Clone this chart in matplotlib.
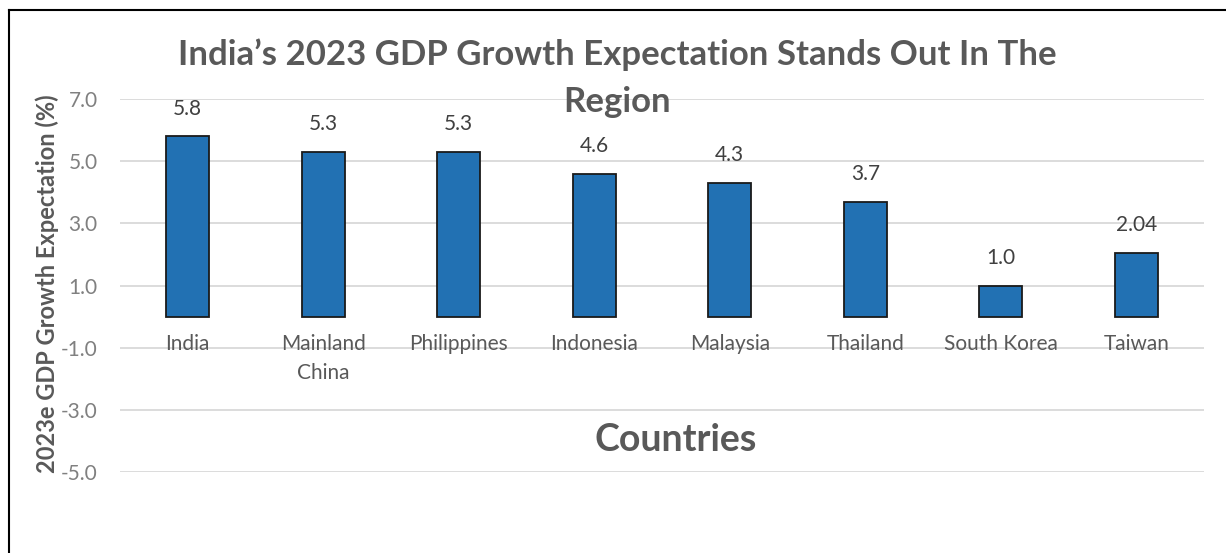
import matplotlib
matplotlib.use("Agg")
import matplotlib.pyplot as plt
from matplotlib.lines import Line2D

countries = ["India", "Mainland\nChina", "Philippines", "Indonesia", "Malaysia",
             "Thailand", "South Korea", "Taiwan"]
values = [5.8, 5.3, 5.3, 4.6, 4.3, 3.7, 1.0, 2.04]
value_labels = ["5.8", "5.3", "5.3", "4.6", "4.3", "3.7", "1.0", "2.04"]
yticks = [-5.0, -3.0, -1.0, 1.0, 3.0, 5.0, 7.0]

plt.rcParams['font.family'] = ['Lato', 'DejaVu Sans']

W, H = 1226, 553
fig = plt.figure(figsize=(W / 100, H / 100), dpi=100)
ax = fig.add_axes([120 / W, 1 - 472 / H, (1204 - 120) / W, (472 - 99) / H])

x = list(range(len(countries)))
ax.bar(x, values, width=0.32, color="#2271B3", edgecolor="#1a1a1a", linewidth=1.3, zorder=3)

for xi, v, lab in zip(x, values, value_labels):
    ax.annotate(lab, (xi, v), xytext=(0, 20), textcoords="offset points",
                ha="center", va="center", fontsize=15, color="#404040")

for xi, c in zip(x, countries):
    ax.text(xi, -0.55, c, ha="center", va="top", fontsize=15, color="#595959",
            linespacing=1.6)

ax.set_xlim(-0.5, len(countries) - 0.5)
ax.set_ylim(-5, 7)
ax.set_yticks(yticks)
ax.set_yticklabels([f"{t:.1f}" for t in yticks], fontsize=15, color="#808080")
ax.tick_params(axis="y", length=0, pad=16)
ax.set_xticks([])
ax.grid(axis="y", color="#d9d9d9", linewidth=1.3, zorder=0)
for s in ax.spines.values():
    s.set_visible(False)

fig.text(47 / W, 1 - 284 / H, "2023e GDP Growth Expectation (%)", rotation=90,
         ha="center", va="center", fontsize=17, fontweight="bold", color="#595959")

fig.text(617 / W, 1 - 55 / H, "India\u2019s 2023 GDP Growth Expectation Stands Out In The",
         ha="center", va="center", fontsize=25, fontweight="bold", color="#595959")
fig.text(617 / W, 1 - 102 / H, "Region", ha="center", va="center", fontsize=25,
         fontweight="bold", color="#595959")
fig.text(676 / W, 1 - 440 / H, "Countries", ha="center", va="center", fontsize=27,
         fontweight="bold", color="#595959")

fig.add_artist(Line2D([9 / W, 9 / W], [0, 1 - 10 / H], transform=fig.transFigure,
                      color="black", linewidth=1.5))
fig.add_artist(Line2D([9 / W, 1], [1 - 10 / H, 1 - 10 / H], transform=fig.transFigure,
                      color="black", linewidth=1.5))

fig.savefig("out.png", dpi=100)
